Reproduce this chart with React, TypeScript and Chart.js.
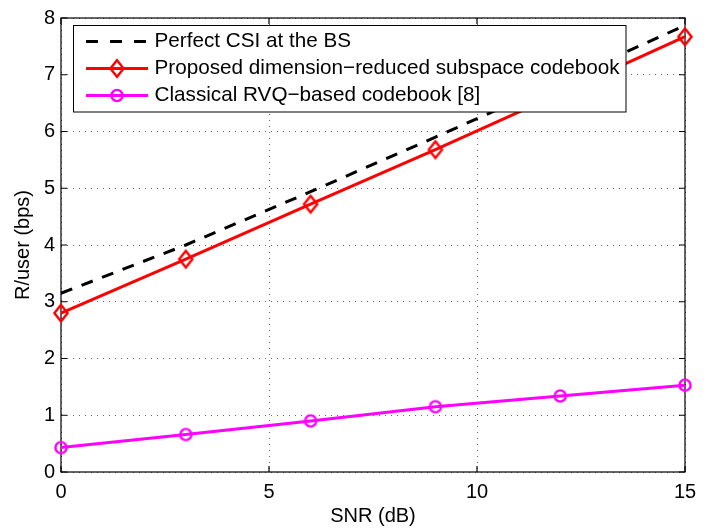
import React, { useEffect, useRef } from "react";
import { Chart, registerables } from "chart.js";

Chart.register(...registerables);

// ---- data ----
const snrDb = [0, 3, 6, 9, 12, 15];
const perfectCSI = [3.15, 4.0, 4.94, 5.9, 6.88, 7.87];
const proposedCodebook = [2.8, 3.75, 4.72, 5.68, 6.67, 7.67];
const classicalRVQ = [0.43, 0.66, 0.9, 1.15, 1.34, 1.53];
const xTickValues = [0, 5, 10, 15];
const yTickValues = [0, 1, 2, 3, 4, 5, 6, 7, 8];
const seriesLabels = [
  "Perfect CSI at the BS",
  "Proposed dimension\u2212reduced subspace codebook",
  "Classical RVQ\u2212based codebook [8]",
];
const xTitle = "SNR (dB)";
const yTitle = "R/user (bps)";

const FONT = "'Liberation Sans', Arial, Helvetica, sans-serif";
const RED = "#ff0000";
const MAGENTA = "#ff00ff";

function drawDiamondPath(ctx: CanvasRenderingContext2D, x: number, y: number) {
  ctx.beginPath();
  ctx.moveTo(x, y - 8.3);
  ctx.lineTo(x + 6.6, y);
  ctx.lineTo(x, y + 8.3);
  ctx.lineTo(x - 6.6, y);
  ctx.closePath();
}

function makeDiamond(color: string): HTMLCanvasElement {
  const c = document.createElement("canvas");
  c.width = 18;
  c.height = 22;
  const ctx = c.getContext("2d")!;
  ctx.strokeStyle = color;
  ctx.lineWidth = 2.4;
  drawDiamondPath(ctx, 9, 11);
  ctx.stroke();
  return c;
}

function makeCircle(color: string): HTMLCanvasElement {
  const c = document.createElement("canvas");
  c.width = 18;
  c.height = 18;
  const ctx = c.getContext("2d")!;
  ctx.strokeStyle = color;
  ctx.lineWidth = 2.4;
  ctx.beginPath();
  ctx.arc(9, 9, 5.6, 0, Math.PI * 2);
  ctx.stroke();
  return c;
}

export default function App() {
  const canvasRef = useRef<HTMLCanvasElement | null>(null);

  useEffect(() => {
    document.body.style.margin = "0";
    const canvas = canvasRef.current;
    if (!canvas) return;

    const diamond = makeDiamond(RED);
    const circle = makeCircle(MAGENTA);

    const framePlugin = {
      id: "matlabFrame",
      beforeDatasetsDraw(chart: any) {
        const { ctx, chartArea } = chart;
        const { left, right, top, bottom } = chartArea;
        const xs = chart.scales.x;
        const ys = chart.scales.y;
        ctx.save();
        ctx.strokeStyle = "#000";
        ctx.lineWidth = 1.2;
        ctx.setLineDash([]);
        ctx.strokeRect(left, top, right - left, bottom - top);
        const tl = 6;
        ctx.beginPath();
        xTickValues.forEach((v) => {
          const px = xs.getPixelForValue(v);
          ctx.moveTo(px, bottom);
          ctx.lineTo(px, bottom - tl);
          ctx.moveTo(px, top);
          ctx.lineTo(px, top + tl);
        });
        yTickValues.forEach((v) => {
          const py = ys.getPixelForValue(v);
          ctx.moveTo(left, py);
          ctx.lineTo(left + tl, py);
          ctx.moveTo(right, py);
          ctx.lineTo(right - tl, py);
        });
        ctx.stroke();
        ctx.restore();
      },
      afterDatasetsDraw(chart: any) {
        const { ctx } = chart;
        const bx = 73.5, by = 25.5, bw = 552.5, bh = 86.5;
        ctx.save();
        ctx.fillStyle = "#fff";
        ctx.fillRect(bx, by, bw, bh);
        ctx.strokeStyle = "#000";
        ctx.lineWidth = 1;
        ctx.setLineDash([]);
        ctx.strokeRect(bx, by, bw, bh);

        const rows = [41.5, 68.5, 95.5];
        const x0 = 86, x1 = 148, xm = 117, tx = 154.5;
        ctx.font = `20.7px ${FONT}`;
        ctx.textBaseline = "middle";
        ctx.textAlign = "left";

        // row 1: dashed black
        ctx.strokeStyle = "#000";
        ctx.lineWidth = 3;
        ctx.setLineDash([12, 12]);
        ctx.beginPath();
        ctx.moveTo(x0, rows[0]);
        ctx.lineTo(x1, rows[0]);
        ctx.stroke();
        ctx.setLineDash([]);

        // row 2: red with diamond
        ctx.strokeStyle = RED;
        ctx.lineWidth = 3;
        ctx.beginPath();
        ctx.moveTo(x0, rows[1]);
        ctx.lineTo(x1, rows[1]);
        ctx.stroke();
        ctx.lineWidth = 2.4;
        drawDiamondPath(ctx, xm, rows[1]);
        ctx.stroke();

        // row 3: magenta with circle
        ctx.strokeStyle = MAGENTA;
        ctx.lineWidth = 3;
        ctx.beginPath();
        ctx.moveTo(x0, rows[2]);
        ctx.lineTo(x1, rows[2]);
        ctx.stroke();
        ctx.lineWidth = 2.4;
        ctx.beginPath();
        ctx.arc(xm, rows[2], 5.6, 0, Math.PI * 2);
        ctx.stroke();

        ctx.fillStyle = "#000";
        seriesLabels.forEach((t, i) => ctx.fillText(t, tx, rows[i]));
        ctx.restore();
      },
    };

    const chart = new Chart(canvas, {
      type: "line",
      data: {
        datasets: [
          {
            label: seriesLabels[0],
            data: snrDb.map((x, i) => ({ x, y: perfectCSI[i] })),
            borderColor: "#000",
            borderWidth: 3,
            borderDash: [12, 10],
            pointRadius: 0,
            fill: false,
            tension: 0,
            clip: false as any,
          },
          {
            label: seriesLabels[1],
            data: snrDb.map((x, i) => ({ x, y: proposedCodebook[i] })),
            borderColor: RED,
            borderWidth: 3,
            pointStyle: diamond as any,
            pointRadius: 6,
            fill: false,
            tension: 0,
            clip: false as any,
          },
          {
            label: seriesLabels[2],
            data: snrDb.map((x, i) => ({ x, y: classicalRVQ[i] })),
            borderColor: MAGENTA,
            borderWidth: 3,
            pointStyle: circle as any,
            pointRadius: 6,
            fill: false,
            tension: 0,
            clip: false as any,
          },
        ],
      },
      options: {
        responsive: false,
        animation: false,
        layout: { padding: { left: 0, top: 12, right: 30, bottom: 0 } },
        plugins: {
          legend: { display: false },
          tooltip: { enabled: false },
        },
        scales: {
          x: {
            type: "linear",
            min: 0,
            max: 15,
            afterFit: (s: any) => {
              s.height = 57;
            },
            afterBuildTicks: (s: any) => {
              s.ticks = xTickValues.map((v) => ({ value: v }));
            },
            ticks: {
              color: "#000",
              font: { family: FONT, size: 20 },
              padding: 8,
              maxRotation: 0,
            },
            grid: {
              color: "rgba(0,0,0,0.6)",
              lineWidth: 1,
              drawTicks: false,
            },
            border: { display: false, dash: [1, 5] },
            title: {
              display: true,
              text: xTitle,
              color: "#000",
              font: { family: FONT, size: 20 },
              padding: { top: 0, bottom: 1 },
            },
          },
          y: {
            type: "linear",
            min: 0,
            max: 8,
            afterFit: (s: any) => {
              s.width = 61;
            },
            afterBuildTicks: (s: any) => {
              s.ticks = yTickValues.map((v) => ({ value: v }));
            },
            ticks: {
              color: "#000",
              font: { family: FONT, size: 20 },
              padding: 6,
            },
            grid: {
              color: "rgba(0,0,0,0.6)",
              lineWidth: 1,
              drawTicks: false,
            },
            border: { display: false, dash: [1, 5] },
            title: {
              display: true,
              text: yTitle,
              color: "#000",
              font: { family: FONT, size: 20 },
              padding: { top: 11, bottom: 0 },
            },
          },
        },
      },
      plugins: [framePlugin],
    });

    return () => chart.destroy();
  }, []);

  return (
    <div style={{ width: 715, height: 529 }}>
      <canvas ref={canvasRef} width={715} height={529} />
    </div>
  );
}
